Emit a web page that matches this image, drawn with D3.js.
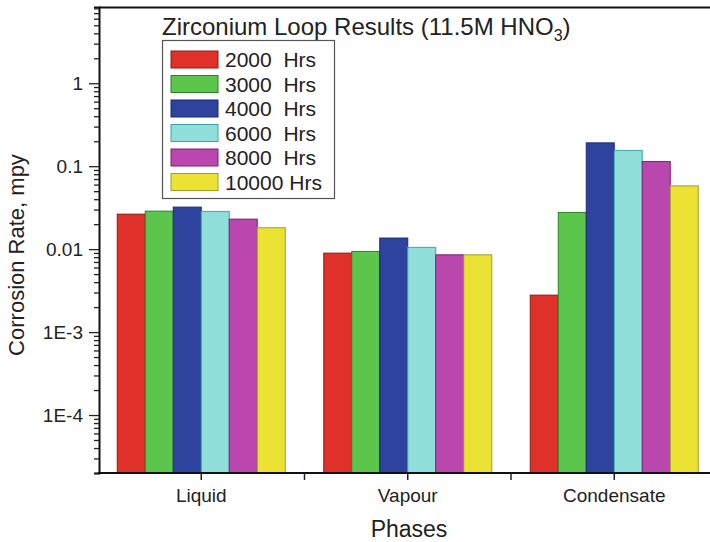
<!DOCTYPE html>
<html>
<head>
<meta charset="utf-8">
<script src="https://cdn.jsdelivr.net/npm/d3@7"></script>
<style>
  body { margin: 0; background: #fff; }
  svg { display: block; font-family: 'Liberation Sans', Arial, sans-serif; }
  text { fill: #222; }
</style>
</head>
<body>
<div id="chart"></div>
<script>
// Data
const phases = ['Liquid', 'Vapour', 'Condensate'];
const series = ['2000  Hrs', '3000  Hrs', '4000  Hrs', '6000  Hrs', '8000  Hrs', '10000 Hrs'];
const hrs2000 = [0.0264, 0.00895, 0.00279];
const hrs3000 = [0.0287, 0.00938, 0.0277];
const hrs4000 = [0.0321, 0.0136, 0.191];
const hrs6000 = [0.0285, 0.0105, 0.155];
const hrs8000 = [0.0230, 0.00854, 0.114];
const hrs10000 = [0.0181, 0.00854, 0.0579];
const yTickLabels = { 1: '1', 0.1: '0.1', 0.01: '0.01', 0.001: '1E-3', 0.0001: '1E-4' };

const allValues = [hrs2000, hrs3000, hrs4000, hrs6000, hrs8000, hrs10000];

// colours
const fills = ['#E0302A', '#5CC54C', '#2E439E', '#8FDED9', '#BA47AE', '#ECE233'];
const strokes = ['#8a1c16', '#2f7f2a', '#1b2a6e', '#3aa9a4', '#7c2172', '#a39c2e'];

const W = 710, H = 542;
const svg = d3.select('#chart').append('svg')
  .attr('width', W)
  .attr('height', H);

// Scales
const xScale = d3.scaleBand()
  .domain(phases)
  .range([98, 717.5]);

const inner = d3.scaleBand()
  .domain(series)
  .range([0, 168]);

const yScale = d3.scaleLog()
  .domain([2e-5, 8.3])
  .range([473, 7]);

const yBase = yScale.range()[0];
const left = 99;

// bars
const groups = svg.selectAll('g.phase')
  .data(phases)
  .enter()
  .append('g')
  .attr('class', 'phase')
  .attr('transform', d => `translate(${ xScale(d) + (xScale.bandwidth() - 168) / 2 }, 0)`);

groups.selectAll('rect')
  .data((d, pi) => series.map((s, si) => ({ s: s, si: si, v: allValues[si][pi] })))
  .enter()
  .append('rect')
  .attr('x', d => inner(d.s))
  .attr('width', inner.bandwidth())
  .attr('y', d => yScale(d.v))
  .attr('height', d => yBase - yScale(d.v))
  .attr('fill', d => fills[d.si])
  .attr('stroke', d => strokes[d.si])
  .attr('stroke-width', 1);

// frame top line
svg.append('line')
  .attr('x1', left).attr('x2', W)
  .attr('y1', 7.5).attr('y2', 7.5)
  .attr('stroke', '#111').attr('stroke-width', 2);

// y axis
const majors = Object.keys(yTickLabels).map(Number);
const yAxis = d3.axisLeft(yScale)
  .tickValues(yScale.ticks())
  .tickSizeOuter(0)
  .tickSize(5)
  .tickFormat('');

const yG = svg.append('g')
  .attr('transform', `translate(${ left }, 0)`)
  .call(yAxis);

yG.selectAll('.tick line')
  .attr('x2', d => majors.some(m => Math.abs(m - d) / m < 1e-6) ? -10 : -5)
  .attr('stroke', '#222')
  .attr('stroke-width', 1.3);
yG.select('.domain').attr('stroke', '#111').attr('stroke-width', 2);

svg.append('g')
  .selectAll('text')
  .data(majors)
  .enter()
  .append('text')
  .attr('x', 83)
  .attr('y', d => yScale(d))
  .attr('dy', '0.35em')
  .style('text-anchor', 'end')
  .style('font-size', '19px')
  .text(d => yTickLabels[d]);

// x axis
const xG = svg.append('g')
  .attr('transform', `translate(0, ${ yBase })`);

xG.append('line')
  .attr('x1', left - 1).attr('x2', W)
  .attr('y1', 0).attr('y2', 0)
  .attr('stroke', '#111').attr('stroke-width', 2);

const betweens = phases.slice(1).map(p => xScale(p));
xG.selectAll('line.tick')
  .data(phases.map(p => xScale(p) + xScale.bandwidth() / 2).concat(betweens))
  .enter()
  .append('line')
  .attr('class', 'tick')
  .attr('x1', d => d).attr('x2', d => d)
  .attr('y1', 0).attr('y2', 7)
  .attr('stroke', '#222').attr('stroke-width', 1.5);

xG.selectAll('text')
  .data(phases)
  .enter()
  .append('text')
  .attr('x', d => xScale(d) + xScale.bandwidth() / 2)
  .attr('y', 29)
  .style('text-anchor', 'middle')
  .style('font-size', '19px')
  .text(d => d);

// axis titles
svg.append('text')
  .attr('x', 409)
  .attr('y', 537)
  .style('text-anchor', 'middle')
  .style('font-size', '23px')
  .text('Phases');

svg.append('text')
  .attr('transform', 'translate(24, 255) rotate(-90)')
  .style('text-anchor', 'middle')
  .style('font-size', '22px')
  .text('Corrosion Rate, mpy');

// title
const title = svg.append('text')
  .attr('x', 162)
  .attr('y', 35)
  .style('font-size', '24px');
title.append('tspan').text('Zirconium Loop Results (11.5M HNO');
title.append('tspan').attr('dy', 6).style('font-size', '16px').text('3');
title.append('tspan').attr('dy', -6).text(')');

// legend
svg.append('rect')
  .attr('x', 162.5).attr('y', 40.5)
  .attr('width', 172).attr('height', 158)
  .attr('fill', '#fff')
  .attr('stroke', '#555').attr('stroke-width', 1.2);

const legend = svg.selectAll('g.legend')
  .data(series)
  .enter()
  .append('g')
  .attr('class', 'legend')
  .attr('transform', (d, i) => `translate(171, ${ 51 + i * 24.5 })`);

legend.append('rect')
  .attr('width', 47)
  .attr('height', 17)
  .attr('fill', (d, i) => fills[i])
  .attr('stroke', (d, i) => strokes[i])
  .attr('stroke-width', 1);

legend.append('text')
  .attr('x', 54)
  .attr('y', 16)
  .style('font-size', '21px')
  .style('white-space', 'pre')
  .attr('xml:space', 'preserve')
  .text(d => d);
</script>
</body>
</html>
